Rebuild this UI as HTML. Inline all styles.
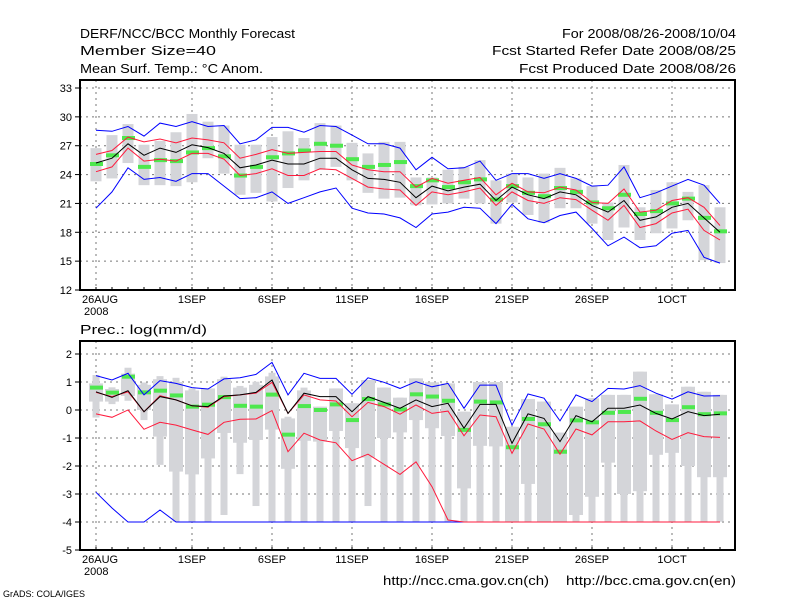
<!DOCTYPE html>
<html><head><meta charset="utf-8"><style>
body{margin:0;background:#fff;}
svg text{font-family:"Liberation Sans",sans-serif;fill:#000;}
</style></head><body>
<svg id="c" width="800" height="600" xmlns="http://www.w3.org/2000/svg">
<rect width="800" height="600" fill="#fff"/>
<text x="80" y="38" font-size="13" textLength="215" lengthAdjust="spacingAndGlyphs">DERF/NCC/BCC Monthly Forecast</text>
<text x="80" y="55" font-size="13" textLength="136" lengthAdjust="spacingAndGlyphs">Member Size=40</text>
<text x="80" y="73" font-size="13" textLength="183" lengthAdjust="spacingAndGlyphs">Mean Surf. Temp.: °C Anom.</text>
<text x="562" y="38" font-size="13" textLength="174" lengthAdjust="spacingAndGlyphs">For 2008/08/26-2008/10/04</text>
<text x="492" y="55" font-size="13" textLength="244" lengthAdjust="spacingAndGlyphs">Fcst Started Refer Date 2008/08/25</text>
<text x="519" y="73" font-size="13" textLength="217" lengthAdjust="spacingAndGlyphs">Fcst Produced Date 2008/08/26</text>
<text x="80" y="334" font-size="13" textLength="127" lengthAdjust="spacingAndGlyphs">Prec.: log(mm/d)</text>
<text x="383" y="585" font-size="13" textLength="166" lengthAdjust="spacingAndGlyphs">http://ncc.cma.gov.cn(ch)</text>
<text x="566" y="585" font-size="13" textLength="170" lengthAdjust="spacingAndGlyphs">http://bcc.cma.gov.cn(en)</text>
<text x="3" y="597" font-size="9">GrADS: COLA/IGES</text>
</svg>
<script>
// ---- top panel data (temperature, 40 days) ----
const tMean=[25.2,25.7,27.2,26.0,26.75,26.3,27.1,26.8,26.2,24.7,25.0,25.5,25.1,25.1,25.7,25.7,24.5,23.6,23.5,23.2,21.6,22.8,22.3,22.7,23.0,21.3,22.7,21.9,21.5,22.2,21.9,20.8,20.1,21.3,19.25,19.6,20.6,21.0,19.5,18.0];
const tRedHi=[26.1,26.5,27.9,27.4,27.7,27.3,27.8,27.6,27.3,25.7,26.1,26.6,26.2,26.3,26.4,26.4,25.0,24.5,24.3,24.3,22.7,23.6,23.1,23.4,23.7,21.9,23.1,22.2,22.1,22.7,22.4,21.1,21.0,22.5,20.1,20.3,21.3,21.6,20.6,18.7];
const tRedLo=[24.3,24.8,26.75,25.4,25.6,25.4,26.2,26.2,25.6,23.9,24.1,24.6,23.9,23.9,24.6,24.5,23.6,22.7,22.5,22.4,20.8,22.2,21.9,22.2,22.6,20.8,22.2,21.3,21.0,21.6,21.4,20.3,19.25,20.8,18.5,18.9,20.0,20.4,18.2,17.2];
const tBlueHi=[28.6,28.5,29.0,28.0,29.35,29.0,29.5,29.0,29.1,27.2,27.6,28.9,28.9,28.4,29.1,29.0,28.1,27.2,27.2,26.75,24.5,25.8,24.6,24.7,25.4,23.4,24.1,24.1,23.6,24.1,23.6,22.8,22.9,24.8,21.6,22.1,22.8,23.5,22.9,21.0];
const tBlueLo=[20.5,22.2,24.7,23.5,23.7,23.3,24.1,24.1,22.8,21.5,21.6,22.2,21.0,21.6,22.2,22.6,20.5,20.0,19.9,19.5,18.5,19.9,20.1,20.6,20.5,18.9,20.9,19.4,19.0,19.75,20.1,18.4,16.6,17.5,16.4,16.6,17.9,18.2,15.4,14.8];
const tGreen=[25.1,26.0,27.8,24.8,25.5,25.4,26.3,26.75,25.9,23.9,24.8,25.8,26.2,26.5,27.2,27.0,25.6,24.8,25.0,25.3,22.8,23.4,22.7,23.2,23.5,21.4,22.8,22.1,21.75,22.6,22.2,21.1,20.5,21.9,19.9,20.2,21.0,21.5,19.5,18.1];
const tBoxHi=[26.75,28.1,29.25,27.1,27.5,28.4,30.3,29.5,29.1,27.1,27.1,27.9,28.5,27.8,29.35,29.1,27.3,26.2,27.4,27.4,23.7,23.7,24.5,24.8,25.5,23.4,24.1,23.7,24.1,24.7,23.6,22.8,21.1,25.0,20.6,22.4,23.2,22.2,22.9,20.6];
const tBoxLo=[23.3,23.6,25.2,22.9,22.9,22.8,23.2,25.7,24.1,21.9,22.1,21.2,22.6,23.4,24.5,24.8,23.4,22.1,21.5,21.6,20.8,20.9,21.0,21.5,21.0,18.9,21.1,19.8,19.0,20.5,20.5,18.9,17.2,18.5,17.2,17.9,18.4,19.25,15.1,14.8];
const tTicks=[12,15,18,21,24,27,30,33];
// ---- bottom panel data (log precipitation) ----
const pMean=[0.65,0.45,0.69,-0.06,0.48,0.36,0.15,0.12,0.50,0.54,0.63,1.07,-0.12,0.60,0.48,0.48,-0.06,0.48,0.27,0.06,0.36,0.12,0.24,-0.65,0.20,0.20,-1.19,-0.14,-0.30,-1.13,-0.20,-0.42,0.06,0.06,0.18,-0.12,-0.32,-0.06,-0.20,-0.15];
const pRedHi=[0.63,0.48,0.65,-0.06,0.51,0.36,0.15,0.10,0.48,0.54,0.60,0.99,-0.12,0.54,0.36,0.32,-0.24,0.27,0.12,-0.15,0.18,-0.12,-0.04,-0.92,-0.18,-0.24,-1.55,-0.5,-0.68,-1.58,-0.68,-0.89,-0.42,-0.42,-0.39,-0.75,-1.05,-0.81,-0.95,-0.98];
const pRedLo=[-0.14,-0.26,0.0,-0.69,-0.44,-0.54,-0.71,-0.87,-0.44,-0.33,-0.32,-0.02,-1.49,-0.83,-1.07,-1.17,-1.81,-1.58,-1.94,-2.30,-1.85,-2.74,-3.93,-4,-4,-4,-4,-4,-4,-4,-4,-4,-4,-4,-4,-4,-4,-4,-4,-4];
const pBlueHi=[1.23,1.07,1.31,0.54,1.05,0.95,0.80,0.75,1.11,1.15,1.27,1.70,0.54,1.31,1.13,1.13,0.56,1.15,0.99,0.77,1.01,0.83,0.95,0.06,0.89,0.89,-0.54,0.57,0.42,-0.39,0.54,0.30,0.77,0.75,0.87,0.60,0.39,0.65,0.50,0.51];
const pBlueLo=[-2.94,-3.5,-4,-4,-3.57,-4,-4,-4,-4,-4,-4,-4,-4,-4,-4,-4,-4,-4,-4,-4,-4,-4,-4,-4,-4,-4,-4,-4,-4,-4,-4,-4,-4,-4,-4,-4,-4,-4,-4,-4];
const pGreen=[0.80,0.62,1.19,0.63,0.69,0.52,0.12,0.19,0.46,0.15,0.12,0.55,-0.88,0.14,0.0,0.20,-0.36,0.39,0.20,0.02,0.56,0.48,0.33,-0.71,0.30,0.27,-1.33,-0.32,-0.51,-1.49,-0.37,-0.44,-0.10,-0.07,0.40,-0.10,-0.36,0.10,-0.15,-0.12];
const pWhiskHi=[1.25,0.81,1.51,0.98,1.21,1.15,0.77,0.77,1.19,0.86,1.01,1.33,-0.24,0.80,0.12,0.77,0.24,1.07,0.80,0.44,1.13,0.99,0.95,-0.06,1.0,1.0,-0.6,0.39,0.3,-0.81,0.12,0.42,0.54,0.54,1.37,0.56,0.2,0.83,0.65,0.54];
const pWhiskLo=[-0.27,0.21,0.33,-0.36,-1.96,-3.99,-3.99,-3.99,-3.75,-2.29,-3.43,-3.99,-3.99,-3.99,-3.99,-3.99,-3.99,-3.43,-3.99,-3.99,-3.99,-3.99,-3.99,-3.99,-3.99,-3.99,-3.99,-3.99,-3.99,-3.99,-3.99,-3.99,-3.99,-3.99,-3.99,-3.99,-3.99,-3.99,-3.99,-3.99];
const pBoxHi=[0.95,0.75,1.3,0.9,1.1,1.0,0.7,0.77,1.1,0.8,0.9,1.2,-0.3,0.7,0.12,0.77,0.24,1.07,0.8,0.44,1.13,0.99,0.95,-0.06,1.0,1.0,-0.6,0.39,0.3,-0.81,0.12,0.42,0.54,0.54,1.37,0.56,0.2,0.83,0.65,0.54];
const pBoxLo=[0.3,0.3,0.5,0.0,-0.95,-2.2,-2.3,-1.73,-0.82,-1.17,-1.07,-0.7,-2.1,-1.1,-1.13,-0.75,-1.36,-1.7,-1.0,-0.8,-0.36,-0.65,-0.93,-2.8,-1.28,-1.3,-3.99,-2.64,-3.99,-3.99,-3.75,-3.1,-1.88,-3.0,-2.9,-1.6,-1.53,-2.0,-2.4,-2.4];
const pTicks=[-5,-4,-3,-2,-1,0,1,2];
const dateLabels=["26AUG","1SEP","6SEP","11SEP","16SEP","21SEP","26SEP","1OCT"];
const dateDays=[0,6,11,16,21,26,31,36];

const NS="http://www.w3.org/2000/svg";
const svg=document.getElementById('c');
function mk(tag,attrs,parent){const e=document.createElementNS(NS,tag);for(const k in attrs)e.setAttribute(k,attrs[k]);(parent||svg).appendChild(e);return e;}
const X0=80,X1=735;
function xDay(i){return 96+16*i;}

function panel(cfg){
  const yv=v=>cfg.yTop+(cfg.vTop-v)*cfg.ppu;
  const g=mk('g',{});
  
  
  cfg.ticks.forEach(t=>{
    if(t!==cfg.ticks[0]){const l=mk('line',{x1:X0,x2:X1,y1:yv(t),y2:yv(t),stroke:'#777','stroke-dasharray':'2,4','stroke-width':1},g);
    }
    const tk=mk('line',{x1:X0-5,x2:X0,y1:yv(t),y2:yv(t),stroke:'#000'},g);
    
    const tx=mk('text',{x:X0-8,y:yv(t)+4,'font-size':11,'text-anchor':'end'},g);
    
    tx.textContent=t;
  });
  dateDays.forEach((d,k)=>{
    const l=mk('line',{x1:xDay(d),x2:xDay(d),y1:cfg.frameTop,y2:cfg.frameBot,stroke:'#777','stroke-dasharray':'2,4'},g);
    
    const tx=mk('text',{x:xDay(d)+(k===0?-14:0),y:cfg.frameBot+13,'font-size':11,'text-anchor':k===0?'start':'middle'},g);
    
    tx.textContent=dateLabels[k];
  });
  const yr=mk('text',{x:84,y:cfg.frameBot+25,'font-size':11},g);
  
  yr.textContent='2008';
  for(let i=0;i<40;i++){const t=mk('line',{x1:xDay(i),x2:xDay(i),y1:cfg.frameBot,y2:cfg.frameBot-3,stroke:'#000'},g);
    }
  for(let i=0;i<40;i++){
    const w=mk('rect',{x:xDay(i)-cfg.ww/2,y:yv(cfg.wHi[i]),width:cfg.ww,height:Math.max(1,yv(cfg.wLo[i])-yv(cfg.wHi[i])),fill:'#d4d5d9'},g);
    
    if(cfg.bHi){const b=mk('rect',{x:xDay(i)-7,y:yv(cfg.bHi[i]),width:14,height:Math.max(1,yv(cfg.bLo[i])-yv(cfg.bHi[i])),fill:'#d4d5d9'},g);
      }
  }
  for(let i=0;i<40;i++){const m=mk('rect',{x:xDay(i)-6,y:yv(cfg.green[i])-2,width:13,height:4,fill:'#4ee84e'},g);
    }
  const line=(arr,col,name)=>{const p=mk('polyline',{points:arr.map((v,i)=>xDay(i)+','+yv(v).toFixed(1)).join(' '),fill:'none',stroke:col,'stroke-width':1},g);
    };
  line(cfg.blueLo,'#0000ff','blue-lower-line');
  line(cfg.blueHi,'#0000ff','blue-upper-line');
  line(cfg.redLo,'#ff1a3c','red-lower-line');
  line(cfg.redHi,'#ff1a3c','red-upper-line');
  line(cfg.mean,'#000','ensemble-mean-line');
  const f=mk('rect',{x:X0,y:cfg.frameTop,width:X1-X0,height:cfg.frameBot-cfg.frameTop,fill:'none',stroke:'#000','stroke-width':2},g);
  
}
panel({name:'temperature-panel',yTop:88,vTop:33,ppu:202/21,frameTop:80,frameBot:290,ticks:tTicks,
  wHi:tBoxHi,wLo:tBoxLo,ww:11,green:tGreen,mean:tMean,redHi:tRedHi,redLo:tRedLo,blueHi:tBlueHi,blueLo:tBlueLo});
panel({name:'precipitation-panel',yTop:354,vTop:2,ppu:28,frameTop:341,frameBot:550,ticks:pTicks,
  wHi:pWhiskHi,wLo:pWhiskLo,ww:7,bHi:pBoxHi,bLo:pBoxLo,green:pGreen,mean:pMean,redHi:pRedHi,redLo:pRedLo,blueHi:pBlueHi,blueLo:pBlueLo});
</script>
</body></html>
